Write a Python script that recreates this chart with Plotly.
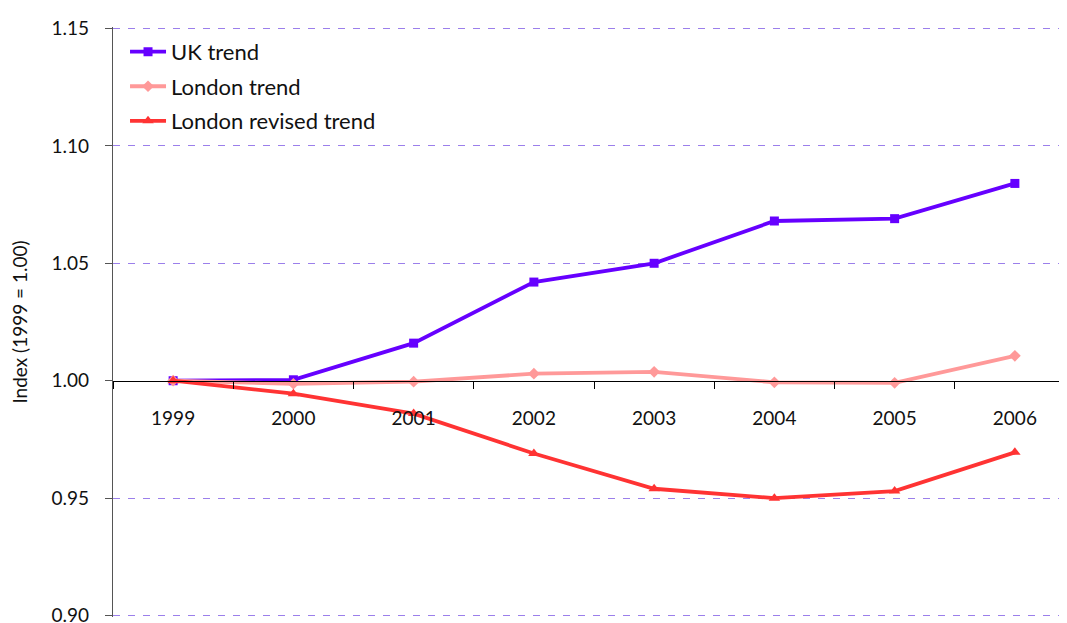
import plotly.graph_objects as go

years = ["1999", "2000", "2001", "2002", "2003", "2004", "2005", "2006"]
uk_trend = [1.000, 1.0004, 1.016, 1.042, 1.050, 1.068, 1.069, 1.084]
london_trend = [1.000, 0.9987, 0.9996, 1.003, 1.0038, 0.9993, 0.9991, 1.0106]
london_revised = [1.000, 0.9945, 0.986, 0.969, 0.954, 0.950, 0.953, 0.9695]
y_ticks = [0.90, 0.95, 1.00, 1.05, 1.10, 1.15]
baseline = 1.00

FONT = "Lato, 'Noto Sans', sans-serif"
Y_RANGE = [0.8994, 1.1506]

fig = go.Figure()
fig.add_trace(go.Scatter(x=years, y=uk_trend, name="UK trend", mode="lines+markers",
                         legendgroup="a",
                         line=dict(color="#6600FF", width=3.8),
                         marker=dict(symbol="square", size=9, color="#6600FF")))
fig.add_trace(go.Scatter(x=years, y=london_trend, name="London trend", mode="lines+markers",
                         legendgroup="b",
                         line=dict(color="#FF9999", width=3.8),
                         marker=dict(symbol="diamond", size=9, color="#FF9999")))
fig.add_trace(go.Scatter(x=years, y=london_revised, name="London revised trend", mode="lines+markers",
                         legendgroup="c",
                         line=dict(color="#FF3333", width=3.8),
                         marker=dict(symbol="triangle-up", size=10, color="#FF3333")))

fig.update_layout(
    width=1067, height=623,
    margin=dict(l=105, r=0, t=19, b=14, autoexpand=False),
    plot_bgcolor="white", paper_bgcolor="white",
    font=dict(family=FONT, size=19, color="#111111"),
    showlegend=True,
    legend=dict(x=0.0125, y=0.9935, xanchor="left", yanchor="top",
                bgcolor="rgba(255,255,255,0)", font=dict(size=22),
                itemwidth=36, tracegroupgap=3),
    xaxis=dict(type="category", range=[-0.5, 7.5], anchor="free",
               position=(baseline - Y_RANGE[0]) / (Y_RANGE[1] - Y_RANGE[0]),
               showline=True, linecolor="black", linewidth=1.3,
               ticks="outside", tickson="boundaries", ticklen=7, tickcolor="black",
               showgrid=False, zeroline=False, ticklabelstandoff=20,
               automargin=False, tickfont=dict(size=19), layer="above traces"),
    yaxis=dict(range=Y_RANGE, tickvals=y_ticks,
               ticktext=[f"{v:.2f}" for v in y_ticks],
               showline=True, linecolor="#555555", linewidth=1.2,
               ticks="outside", ticklen=7, tickcolor="#555555",
               showgrid=False, zeroline=False, automargin=False, ticklabelstandoff=12,
               title=dict(text="Index (1999 = 1.00)", font=dict(size=19), standoff=22),
               tickfont=dict(size=19)),
    yaxis2=dict(range=Y_RANGE, overlaying="y", anchor="x",
                tickvals=[v for v in y_ticks if v != baseline],
                showticklabels=False, ticks="", showline=False,
                showgrid=True, gridcolor="#9B7FEB", griddash="7px,8px", gridwidth=1,
                zeroline=False, automargin=False),
)
# invisible trace to activate the grid axis
fig.add_trace(go.Scatter(x=years, y=uk_trend, yaxis="y2", mode="lines",
                         line=dict(width=0), hoverinfo="skip", showlegend=False,
                         opacity=0))

fig.write_html("out.html")
